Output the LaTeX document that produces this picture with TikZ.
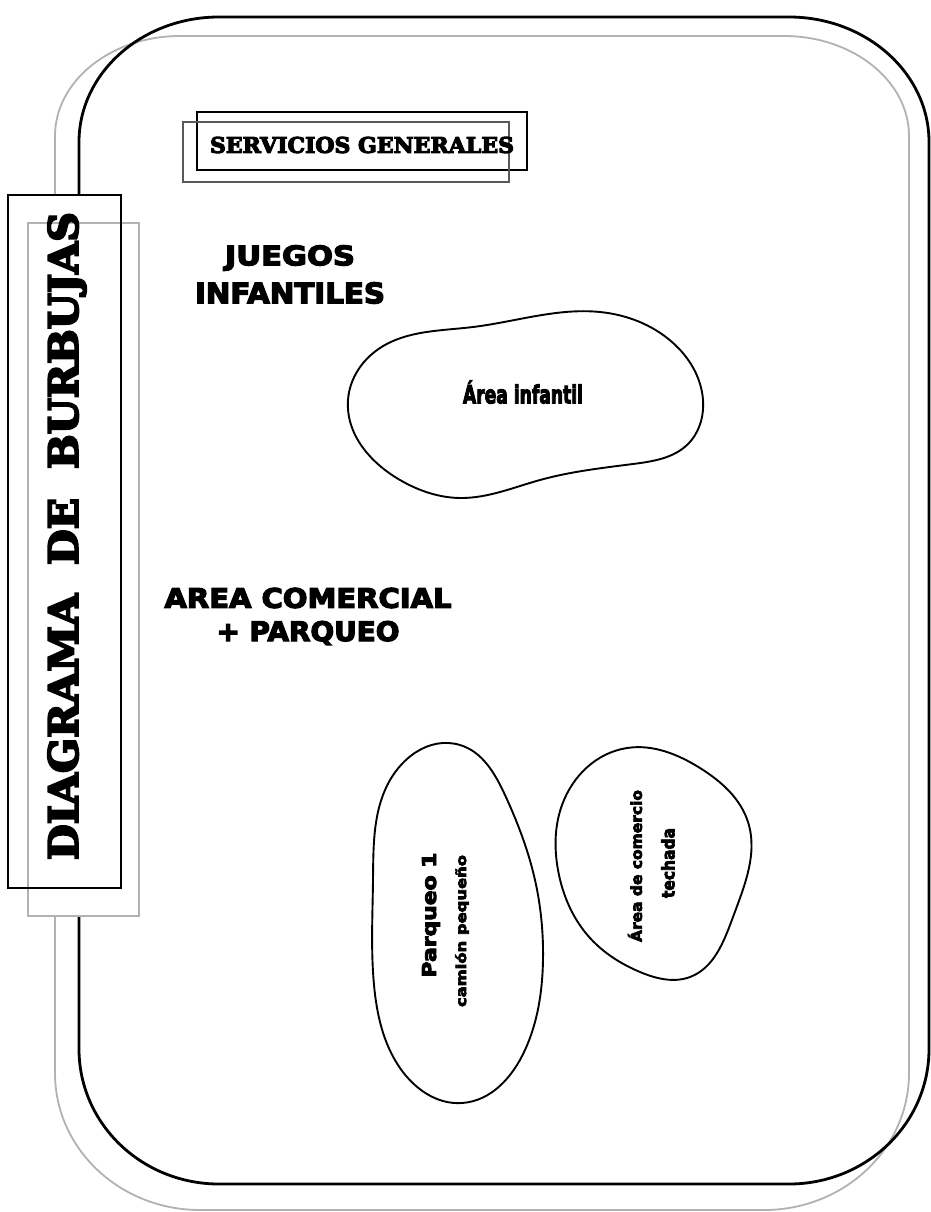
\documentclass[tikz,border=0pt]{standalone}
\usepackage{fontspec}
\usepackage{graphicx}
\usetikzlibrary{hobby}
\setmainfont{DejaVu Sans}[BoldFeatures={FakeBold=4.5}]
\newfontfamily\slabfont{DejaVu Serif}[BoldFeatures={FakeBold=5}]
\tikzset{
  outerblack/.style={draw=black, line width=2.8pt},
  outergray/.style={draw=black!30, line width=1.8pt},
  bubble/.style={draw=black, line width=1.9pt},
  lbl/.style={inner sep=0pt, outer sep=0pt},
}
\begin{document}
\begin{tikzpicture}[x=1pt, y=-1pt]
\useasboundingbox[fill=white] (0,0) rectangle (930,1212);

% gray outer rounded frame
\path[outergray] (55,136) .. controls (55,81) and (111,36) .. (180,36)
  -- (784,36) .. controls (853,36) and (909,81) .. (909,136)
  -- (909,1073) .. controls (909,1149) and (844,1210) .. (764,1210)
  -- (200,1210) .. controls (120,1210) and (55,1149) .. (55,1073) -- cycle;

% black outer rounded frame
\path[outerblack] (79,142) .. controls (79,73) and (142,17) .. (219,17)
  -- (789,17) .. controls (866,17) and (929,73) .. (929,142)
  -- (929,1049) .. controls (929,1124) and (866,1184) .. (789,1184)
  -- (219,1184) .. controls (142,1184) and (79,1124) .. (79,1049) -- cycle;

% title boxes
\fill[white] (8,195) rectangle (121,888);
\fill[white] (28,223) rectangle (139,916);
\draw[draw=black!30, line width=1.8pt] (28,223) rectangle (139,916);
\draw[draw=black, line width=2.4pt] (8,195) rectangle (121,888);
\node[lbl, rotate=90] (title) at (67,536)
  {\resizebox{648pt}{30pt}{\slabfont\bfseries DIAGRAMA\hspace{0.7em}DE\hspace{0.7em}BURBUJAS}};

% servicios generales boxes
\draw[draw=black, line width=2.2pt] (197,112) rectangle (527,170);
\draw[draw=black!65, line width=2.8pt] (183,122) rectangle (509,182);
\node[lbl] (serv) at (362,145) {\resizebox{304pt}{16pt}{\slabfont\bfseries SERVICIOS GENERALES}};

% headings
\node[lbl] (juegos) at (290,258) {\resizebox{130pt}{20pt}{\bfseries JUEGOS}};
\node[lbl] (infant) at (290,293) {\resizebox{190pt}{21pt}{\bfseries INFANTILES}};
\node[lbl] (comercial) at (308,598) {\resizebox{287pt}{20pt}{\bfseries AREA COMERCIAL}};
\node[lbl] (parqueo) at (308,633) {\resizebox{183pt}{20pt}{\bfseries + PARQUEO}};

% bubbles
\draw[bubble] plot[closed hobby] coordinates {(348,400) (380,348) (473,327) (600,312)
  (672,342) (703,400) (688,444) (633,464) (540,480) (460,498) (400,480)};
\node[lbl] (infantil) at (523,392) {\resizebox{120pt}{23pt}{\bfseries Área infantil}};

\draw[bubble] plot[closed hobby] coordinates {(460,745) (505,795) (535,880) (543,960)
  (525,1050) (462,1103) (400,1068) (374,985) (373,880) (385,790)};
\node[lbl, rotate=90] (parq1) at (431,915) {\resizebox{125pt}{14pt}{\bfseries Parqueo 1}};
\node[lbl, rotate=90] (camion) at (462,931) {\resizebox{152pt}{11pt}{\bfseries camión pequeño}};

\draw[bubble] plot[closed hobby] coordinates {(627,748) (700,768) (748,822) (733,917)
  (690,977) (640,972) (590,938) (558,870) (562,805)};
\node[lbl, rotate=90] (areacom) at (635,866) {\resizebox{152pt}{14pt}{\bfseries Área de comercio}};
\node[lbl, rotate=90] (techada) at (668,863) {\resizebox{70pt}{13pt}{\bfseries techada}};
\end{tikzpicture}
\end{document}
